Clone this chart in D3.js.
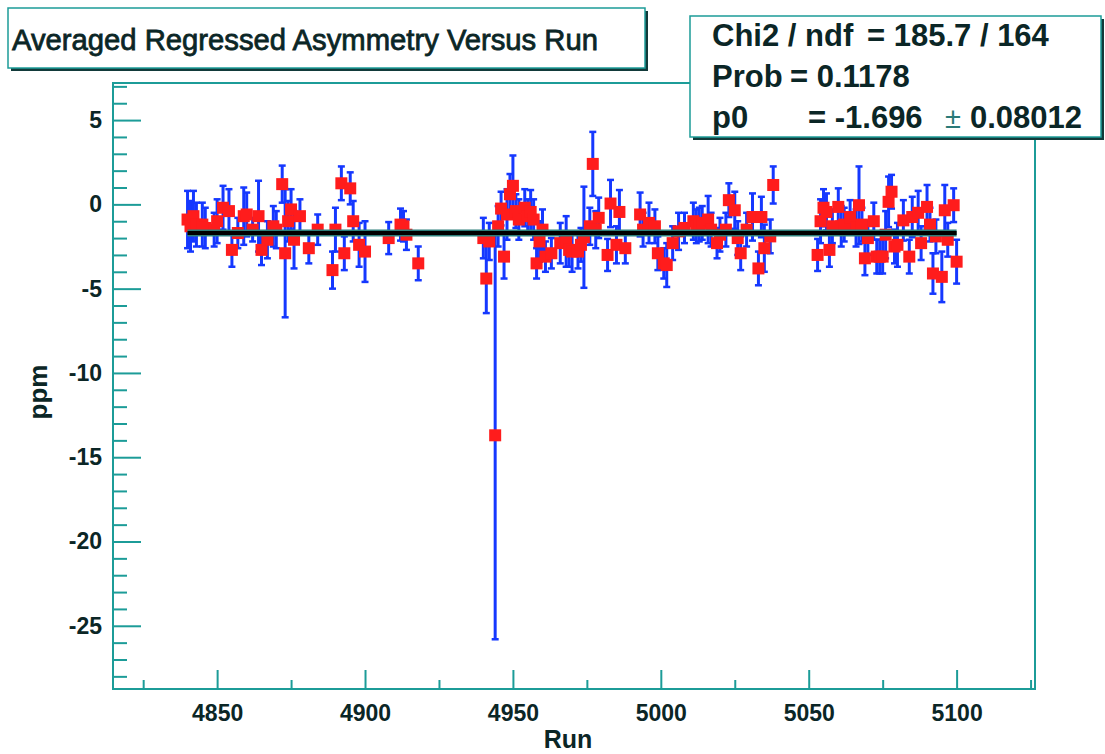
<!DOCTYPE html>
<html>
<head>
<meta charset="utf-8">
<script src="https://cdn.jsdelivr.net/npm/d3@7"></script>
<style>
  body { margin: 0; background: #fff; }
  svg text { font-family: "Liberation Sans", Arial, Helvetica, sans-serif; }
</style>
</head>
<body>
<svg></svg>
<script>
const width = 1105;
const height = 754;

// run numbers, averaged regressed asymmetry (ppm) and its error
const runs = [
  4840, 4841, 4842, 4843, 4845, 4846, 4849, 4850, 4852, 4854, 4855, 4857, 4859, 4860,
  4862, 4864, 4865, 4867, 4869, 4870, 4872, 4873, 4874, 4875, 4876, 4878, 4881, 4884,
  4889, 4890, 4892, 4893, 4895, 4896, 4898, 4900, 4908, 4912, 4913, 4914, 4918,
  4940, 4941, 4942, 4944, 4945, 4946, 4947, 4948, 4949, 4950, 4951, 4952, 4954, 4955,
  4956, 4957, 4958, 4959, 4960, 4961, 4963, 4966, 4968, 4969, 4970, 4972, 4973, 4974,
  4976, 4977, 4978, 4979, 4982, 4983, 4985, 4986, 4988, 4993, 4994, 4996, 4998, 4999,
  5001, 5002, 5004, 5006, 5008, 5011, 5012, 5013, 5014, 5016, 5017, 5019, 5020, 5022,
  5023, 5025, 5026, 5027, 5029, 5031, 5033, 5034, 5035, 5037, 5038,
  5053, 5054, 5055, 5056, 5057, 5058, 5060, 5061, 5062, 5064, 5066, 5067, 5068, 5069,
  5070, 5072, 5073, 5074, 5075, 5076, 5077, 5078, 5079, 5080, 5082, 5084, 5085, 5087,
  5088, 5090, 5091, 5092, 5093, 5095, 5096, 5097, 5099, 5100
];
const asym = [
  -0.9, -1.3, -0.7, -1.2, -1.2, -1.4, -1.5, -1.0, -0.2, -0.4, -2.7, -1.7, -0.7, -0.6,
  -1.5, -0.7, -2.7, -2.1, -1.3, -1.5, 1.2, -2.9, -1.0, -0.3, -2.1, -0.7, -2.6, -1.5,
  -3.9, -1.5, 1.25, -2.9, 0.95, -1.0, -2.4, -2.8, -2.0, -1.2, -1.3, -1.8, -3.5,
  -2.0, -4.4, -2.2, -13.7, -1.3, -0.25, -3.1, -0.6, 0.6, 1.1, -0.4, -0.9, -0.2, -0.7,
  -0.45, -0.9, -3.5, -2.2, -1.5, -3.1, -2.9, -2.3, -2.2, -2.7, -2.8, -2.8, -2.4, -1.95,
  -1.3, 2.4, -1.5, -0.8, -3.0, 0.05, -2.4, -0.45, -2.6, -0.6, -1.5, -1.1, -1.3, -2.9,
  -3.5, -3.6, -2.3, -1.6, -1.4, -1.0, -1.3, -1.2, -1.1, -0.9, -1.5, -2.3, -1.8, -1.5,
  0.25, -0.35, -2.0, -2.9, -1.5, -0.75, -3.8, -0.75, -2.6, -1.9, 1.15,
  -3.0, -1.0, -0.2, -0.45, -2.7, -1.3, -0.15, -1.3, -1.2, -0.75, -1.4, -0.05, -1.2, -3.2,
  -2.0, -1.0, -3.1, -3.1, -3.1, -1.8, 0.15, 0.75, -2.5, -2.4, -0.95, -3.1, -0.75, -0.5,
  -2.3, -0.15, -1.2, -4.1, -1.9, -4.3, -0.35, -2.1, -0.05, -3.4
];
const errs = [
  1.7, 1.5, 1.5, 1.3, 1.3, 1.2, 1.0, 1.3, 1.3, 1.3, 1.0, 0.9, 1.7, 1.3,
  0.7, 2.1, 0.9, 1.1, 1.2, 1.1, 1.1, 3.8, 1.2, 1.2, 1.7, 1.0, 0.9, 0.9,
  1.1, 1.3, 1.0, 1.0, 0.95, 1.2, 1.3, 1.8, 0.95, 0.95, 0.9, 0.9, 1.0,
  1.2, 2.05, 1.1, 12.1, 1.2, 1.0, 1.3, 1.5, 1.2, 1.8, 1.0, 1.2, 1.1, 1.0,
  1.3, 1.2, 0.9, 1.2, 1.2, 0.9, 0.9, 1.2, 1.5, 1.0, 1.2, 1.0, 1.0, 3.0,
  1.1, 1.9, 1.1, 1.2, 0.95, 1.4, 1.1, 1.3, 0.9, 1.3, 1.0, 1.2, 1.0, 1.0,
  0.9, 1.3, 1.0, 1.1, 0.9, 1.1, 1.0, 1.0, 1.0, 1.4, 1.0, 0.9, 1.0, 1.0,
  1.0, 1.1, 1.0, 1.0, 1.0, 1.4, 1.0, 1.2, 1.4, 1.0, 1.1,
  0.95, 1.3, 1.1, 1.1, 1.0, 1.0, 1.1, 1.2, 1.0, 1.0, 1.1, 2.3, 1.0, 1.0,
  1.0, 1.1, 1.0, 1.0, 1.0, 1.4, 1.5, 1.0, 1.0, 1.3, 1.2, 1.0, 1.2, 1.3,
  1.0, 1.3, 1.0, 1.2, 1.0, 1.5, 1.5, 1.0, 1.0, 1.3
];

// constant fit
const fitValue = -1.696;
const fitRange = [4840, 5100];

// axis ticks
const xTicks = [4850, 4900, 4950, 5000, 5050, 5100];
const xMinorTicks = [4825, 4875, 4925, 4975, 5025, 5075, 5125];
const yTicks = [5, 0, -5, -10, -15, -20, -25];

const titleText = "Averaged Regressed Asymmetry Versus Run";
const statNames = ["Chi2 / ndf", "Prob", "p0"];
const statValues = ["= 185.7 / 164", "= 0.1178", "= -1.696"];
const p0Error = "0.08012";

const teal = "#1c9c98";
const ink = "#0b2626";

const svg = d3.select('svg')
  .attr('width', width)
  .attr('height', height);

const x = d3.scaleLinear().domain([4814.8, 5126.5]).range([113, 1035]);
const y = d3.scaleLinear().domain([-28.75, 7.2]).range([689, 83]);

// frame
svg.append('rect')
  .attr('x', 113).attr('y', 83)
  .attr('width', 922).attr('height', 606)
  .attr('fill', 'none')
  .attr('stroke', teal)
  .attr('stroke-width', 2);

function styleAxis(g) {
  g.select('.domain').remove();
  g.selectAll('.tick line').attr('stroke', teal).attr('stroke-width', 2);
  g.selectAll('.tick text')
    .attr('fill', ink)
    .style('font-size', '23px')
    .style('font-weight', 'bold');
}

// plain hyphen for negatives, like the original
const plain = (d) => String(d);

// y axis: minor then major
const yMinor = d3.range(-28, 8).filter((v) => v % 5 !== 0);
svg.append('g')
  .attr('transform', 'translate(113,0)')
  .call(d3.axisLeft(y).tickValues(yMinor).tickSize(-14).tickFormat(''))
  .call(styleAxis);
svg.append('g')
  .attr('transform', 'translate(113,0)')
  .call(d3.axisLeft(y).tickValues(yTicks).tickSize(-28).tickPadding(11).tickFormat(plain))
  .call(styleAxis);

// x axis
svg.append('g')
  .attr('transform', 'translate(0,689)')
  .call(d3.axisBottom(x).tickValues(xMinorTicks).tickSize(-9).tickFormat(''))
  .call(styleAxis);
svg.append('g')
  .attr('transform', 'translate(0,689)')
  .call(d3.axisBottom(x).tickValues(xTicks).tickSize(-19).tickPadding(16).tickFormat(plain))
  .call(styleAxis);

// axis titles
svg.append('text')
  .attr('x', 568).attr('y', 748)
  .attr('text-anchor', 'middle')
  .attr('fill', ink)
  .style('font-size', '25px').style('font-weight', 'bold')
  .text('Run');
svg.append('text')
  .attr('transform', 'translate(47,392) rotate(-90)')
  .attr('text-anchor', 'middle')
  .attr('fill', ink)
  .style('font-size', '26px').style('font-weight', 'bold')
  .text('ppm');

const points = runs.map((r, i) => ({ run: r, v: asym[i], e: errs[i] }));

// error bars
const bars = svg.append('g')
  .attr('stroke', '#1538ff');
bars.selectAll('line.err')
  .data(points)
  .join('line')
  .attr('class', 'err')
  .attr('x1', (d) => x(d.run)).attr('x2', (d) => x(d.run))
  .attr('y1', (d) => y(d.v + d.e)).attr('y2', (d) => y(d.v - d.e))
  .attr('stroke-width', 3);
bars.selectAll('line.capt')
  .data(points)
  .join('line')
  .attr('class', 'capt')
  .attr('x1', (d) => x(d.run) - 3.5).attr('x2', (d) => x(d.run) + 3.5)
  .attr('y1', (d) => y(d.v + d.e)).attr('y2', (d) => y(d.v + d.e))
  .attr('stroke-width', 2.5);
bars.selectAll('line.capb')
  .data(points)
  .join('line')
  .attr('class', 'capb')
  .attr('x1', (d) => x(d.run) - 3.5).attr('x2', (d) => x(d.run) + 3.5)
  .attr('y1', (d) => y(d.v - d.e)).attr('y2', (d) => y(d.v - d.e))
  .attr('stroke-width', 2.5);

// markers
svg.append('g')
  .selectAll('rect')
  .data(points)
  .join('rect')
  .attr('x', (d) => x(d.run) - 6)
  .attr('y', (d) => y(d.v) - 6)
  .attr('width', 12).attr('height', 12)
  .attr('fill', '#ff1c1c');

// fit line
svg.append('line')
  .attr('x1', x(fitRange[0])).attr('x2', x(fitRange[1]))
  .attr('y1', y(fitValue)).attr('y2', y(fitValue))
  .attr('stroke', '#2d7f7b').attr('stroke-width', 7);
svg.append('line')
  .attr('x1', x(fitRange[0])).attr('x2', x(fitRange[1]))
  .attr('y1', y(fitValue)).attr('y2', y(fitValue))
  .attr('stroke', '#000').attr('stroke-width', 4);

// title box
svg.append('rect')
  .attr('x', 11).attr('y', 11).attr('width', 637).attr('height', 60)
  .attr('fill', '#123a3a');
svg.append('rect')
  .attr('x', 8).attr('y', 8).attr('width', 637).attr('height', 60)
  .attr('fill', '#fff').attr('stroke', teal).attr('stroke-width', 1.5);
svg.append('text')
  .attr('x', 12).attr('y', 50)
  .attr('fill', ink)
  .attr('stroke', ink).attr('stroke-width', 0.8)
  .attr('textLength', 586).attr('lengthAdjust', 'spacingAndGlyphs')
  .style('font-size', '30px')
  .text(titleText);

// stats box
svg.append('rect')
  .attr('x', 693).attr('y', 19).attr('width', 411).attr('height', 121)
  .attr('fill', '#123a3a');
svg.append('rect')
  .attr('x', 690).attr('y', 16).attr('width', 411).attr('height', 121)
  .attr('fill', '#fff').attr('stroke', teal).attr('stroke-width', 1.5);

const statY = [46, 87, 128];
const valueX = [867, 790, 808];
const stats = svg.append('g')
  .attr('fill', ink)
  .style('font-size', '31px').style('font-weight', 'bold');
stats.selectAll('text.name')
  .data(statNames)
  .join('text')
  .attr('class', 'name')
  .attr('x', 712).attr('y', (d, i) => statY[i])
  .text((d) => d);
stats.selectAll('text.val')
  .data(statValues)
  .join('text')
  .attr('class', 'val')
  .attr('x', (d, i) => valueX[i]).attr('y', (d, i) => statY[i])
  .text((d) => d);
svg.append('text')
  .attr('x', 945).attr('y', 128)
  .attr('fill', '#2a7a78')
  .style('font-size', '29px')
  .text('\u00b1');
stats.append('text')
  .attr('x', 970).attr('y', 128)
  .text(p0Error);
</script>
</body>
</html>
